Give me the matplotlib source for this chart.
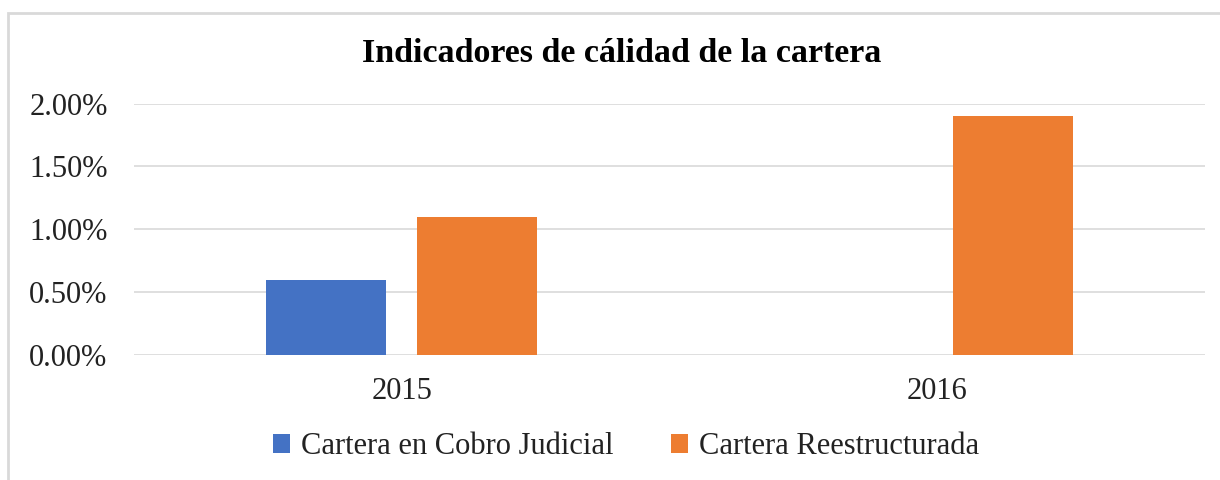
import matplotlib
matplotlib.use("Agg")
import matplotlib.pyplot as plt
from matplotlib.patches import Rectangle
from matplotlib.ticker import FuncFormatter, MultipleLocator
import numpy as np

categories = ["2015", "2016"]
series_names = ["Cartera en Cobro Judicial", "Cartera Reestructurada"]
cobro_judicial = [0.0060, 0.0]
reestructurada = [0.0110, 0.0190]
colors = ["#4472C4", "#ED7D31"]

plt.rcParams["font.family"] = ["Liberation Serif", "DejaVu Serif"]

fig = plt.figure(figsize=(12.2, 4.8), dpi=100)
fig.patch.set_facecolor("white")

# outer chart border (top and left visible)
fig.patches.append(Rectangle((8 / 1220, -0.1), 1.2, 1 - 13 / 480 + 0.1,
                             transform=fig.transFigure, fill=False,
                             edgecolor="#d9d9d9", linewidth=2, zorder=0))

ax = fig.add_axes([134 / 1220, 1 - 355 / 480, (1205 - 134) / 1220, (355 - 103.5) / 480])
x = np.arange(len(categories))
w = 0.2245
off = 0.1412
ax.bar(x - off, cobro_judicial, width=w, color=colors[0], label=series_names[0], zorder=3)
ax.bar(x + off, reestructurada, width=w, color=colors[1], label=series_names[1], zorder=3)

ax.set_xlim(-0.5, len(categories) - 0.5)
ax.set_ylim(0, 0.02)
ax.yaxis.set_major_locator(MultipleLocator(0.005))
ax.yaxis.set_major_formatter(FuncFormatter(lambda v, p: f"{v*100:.2f}%"))
ax.set_xticks(x)
ax.set_xticklabels(categories)
ax.grid(axis="y", color="#d9d9d9", linewidth=1.2, zorder=0)
for s in ["top", "right", "left", "bottom"]:
    ax.spines[s].set_visible(False)
ax.tick_params(axis="both", length=0, labelsize=22, colors="#222222")
ax.tick_params(axis="y", pad=19)
ax.tick_params(axis="x", pad=16)

fig.text(621.5 / 1220, 1 - 54 / 480, "Indicadores de cálidad de la cartera",
         ha="center", va="center", fontsize=24.5, fontweight="bold", color="black")

fig.legend(loc="center", bbox_to_anchor=(626 / 1220, 1 - 447 / 480), ncol=2,
           frameon=False, fontsize=22, handlelength=0.55, handleheight=0.55,
           handletextpad=0.35, columnspacing=1.9, labelcolor="#222222")

fig.savefig("out.png", dpi=100, facecolor="white")
